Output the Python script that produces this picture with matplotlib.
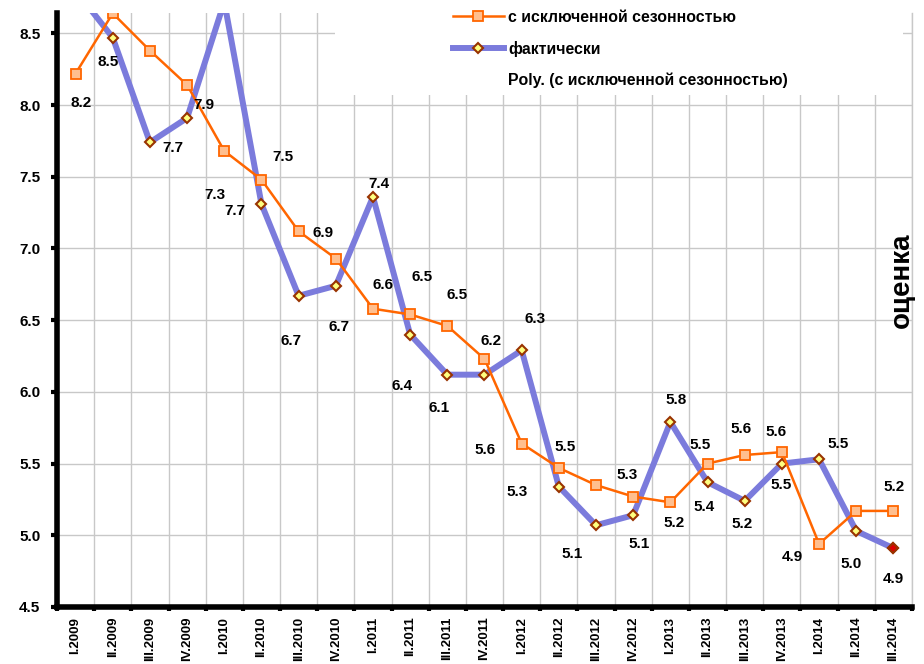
import numpy as np
import matplotlib
matplotlib.use("Agg")
import matplotlib.pyplot as plt
from matplotlib.lines import Line2D
from matplotlib.patches import Rectangle
from matplotlib.ticker import FixedLocator, FormatStrFormatter

plt.rcParams['font.family'] = ['Liberation Sans', 'DejaVu Sans']
plt.rcParams['font.weight'] = 'bold'

quarters = ['I.2009', 'II.2009', 'III.2009', 'IV.2009',
            'I.2010', 'II.2010', 'III.2010', 'IV.2010',
            'I.2011', 'II.2011', 'III.2011', 'IV.2011',
            'I.2012', 'II.2012', 'III.2012', 'IV.2012',
            'I.2013', 'II.2013', 'III.2013', 'IV.2013',
            'I.2014', 'II.2014', 'III.2014']

# с исключенной сезонностью
sa = [8.22, 8.64, 8.38, 8.14, 7.68, 7.48, 7.12, 6.93, 6.58, 6.54, 6.46, 6.23,
      5.64, 5.47, 5.35, 5.27, 5.23, 5.50, 5.56, 5.58, 4.94, 5.17, 5.17]
# фактически
actual = [8.80, 8.47, 7.74, 7.91, 8.72, 7.31, 6.67, 6.74, 7.36, 6.40, 6.12, 6.12,
          6.29, 5.34, 5.07, 5.14, 5.79, 5.37, 5.24, 5.50, 5.53, 5.03, 4.91]

# data labels: (series, index, dx px, dy px downwards)
labels = [('sa', 0, 6, 29), ('act', 1, -5, 24), ('act', 2, 23, 6), ('act', 3, 17, -13),
          ('act', 5, -47, -9), ('sa', 4, 11, 60), ('sa', 5, 21, -23), ('sa', 7, -13, -26),
          ('act', 6, -8, 45), ('act', 7, 3, 41), ('act', 8, 6, -13), ('sa', 8, 10, -24),
          ('sa', 9, 12, -37), ('sa', 10, 10, -31), ('sa', 11, 7, -18), ('act', 12, 13, -31),
          ('act', 9, -8, 51), ('act', 10, -8, 33), ('sa', 12, -37, 6), ('act', 13, -42, 5),
          ('sa', 13, 6, -21), ('act', 14, -24, 29), ('sa', 15, -6, -22), ('act', 15, 6, 29),
          ('act', 16, 6, -22), ('sa', 16, 4, 21), ('sa', 17, -7, -19), ('act', 17, -3, 25),
          ('sa', 18, -4, -26), ('act', 18, -3, 23), ('sa', 19, -6, -20), ('act', 19, -1, 21),
          ('act', 20, 19, -15), ('sa', 20, -27, 13), ('act', 21, -5, 33), ('sa', 22, 1, -24),
          ('act', 22, 0, 31)]

x = np.arange(len(quarters))

fig = plt.figure(figsize=(9.24, 6.64), dpi=100)
ax = fig.add_axes([57 / 924, 1 - 607 / 664, (912 - 57) / 924, (607 - 13) / 664])

orange = '#FF6600'
blue = '#7B7BDC'

ax.plot(x, actual, color=blue, lw=4.3, marker='D', ms=5.5, mfc='#FFFF80',
        mec='#993300', mew=1.5, zorder=3)
ax.plot(x[-1:], actual[-1:], ls='none', marker='D', ms=5.5, mfc='#DD0000',
        mec='#993300', mew=1.5, zorder=5)
ax.plot(x, sa, color=orange, lw=1.8, marker='s', ms=7.5, mfc='#FFBF8F',
        mec=orange, mew=1.3, zorder=4)

series = {'sa': sa, 'act': actual}
for name, i, dx, dy in labels:
    v = series[name][i]
    ax.annotate(f'{v:.1f}', (x[i], v), xytext=(dx * 0.72, -dy * 0.72),
                textcoords='offset points', ha='center', va='center',
                fontsize=11, fontweight='bold', zorder=6)

ax.set_xlim(-0.5, len(quarters) - 0.5)
ax.set_ylim(4.5, 8.642)

ax.set_xticks(x)
ax.set_xticklabels(quarters, rotation=90, fontsize=9.5, fontweight='bold')
ax.xaxis.set_minor_locator(FixedLocator(np.arange(-0.5, len(quarters), 1.0)))
ax.tick_params(axis='x', which='major', length=0, pad=7)
ax.tick_params(axis='x', which='minor', length=3, width=3, direction='out', color='black')

ax.set_yticks(np.arange(4.5, 8.51, 0.5))
ax.yaxis.set_major_formatter(FormatStrFormatter('%.1f'))
ax.tick_params(axis='y', length=4, width=3, direction='out', pad=8, labelsize=11)
for t in ax.get_yticklabels():
    t.set_fontweight('bold')

ax.set_axisbelow(True)
ax.grid(True, axis='y', which='major', color='#C8C8C8', lw=1)
ax.grid(True, axis='x', which='minor', color='#C8C8C8', lw=1)

ax.spines['left'].set_linewidth(4)
ax.spines['bottom'].set_linewidth(4)
ax.spines['top'].set_visible(False)
ax.spines['right'].set_color('#C8C8C8')
ax.spines['right'].set_linewidth(1)

# white area behind the legend
ax.add_patch(Rectangle((0.325, 0.862), 0.665, 0.2, transform=ax.transAxes,
                       facecolor='white', edgecolor='none', zorder=1, clip_on=False))

handles = [Line2D([], [], color=orange, lw=1.8, marker='s', ms=7.5, mfc='#FFBF8F',
                  mec=orange, mew=1.3),
           Line2D([], [], color=blue, lw=4.3, marker='D', ms=5.5, mfc='#FFFF80',
                  mec='#993300', mew=1.5),
           Line2D([], [], color='none')]
names = ['с исключенной сезонностью', 'фактически', 'Poly. (с исключенной сезонностью)']
leg = fig.legend(handles, names, loc='upper left', bbox_to_anchor=(453 / 924, 1 - 10 / 664),
                 frameon=False, borderpad=0, borderaxespad=0, handlelength=3.2,
                 handletextpad=0.3, labelspacing=1.0,
                 prop={'family': 'Liberation Sans', 'weight': 'bold', 'size': 11.4})
leg.set_zorder(7)

ax.text(0.988, 0.55, 'оценка', transform=ax.transAxes, rotation=90, ha='center',
        va='center', fontsize=20, fontweight='bold', zorder=6)

fig.savefig('out.png', dpi=100)
